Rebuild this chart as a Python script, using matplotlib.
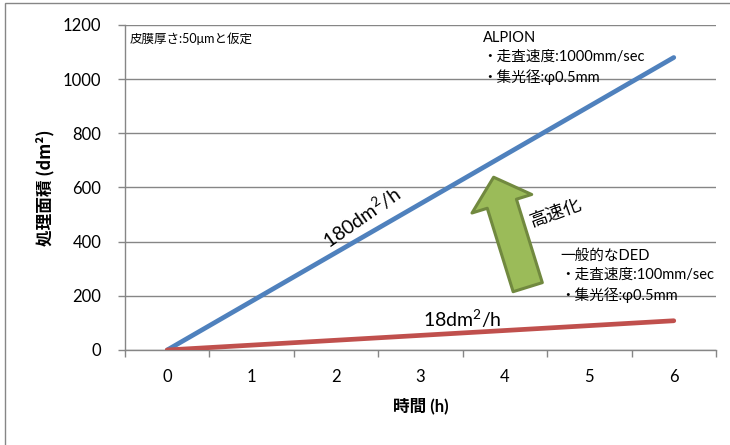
import numpy as np
import matplotlib
matplotlib.use("Agg")
import matplotlib.pyplot as plt
from matplotlib.patches import FancyArrowPatch, Rectangle

plt.rcParams['font.family'] = ['Lato', 'Noto Sans CJK JP', 'DejaVu Sans']
plt.rcParams['mathtext.fontset'] = 'custom'
plt.rcParams['mathtext.rm'] = 'Lato'
plt.rcParams['mathtext.it'] = 'Lato'

# データ
hours = [0, 1, 2, 3, 4, 5, 6]
alpion = [0, 180, 360, 540, 720, 900, 1080]   # 180dm2/h
ded = [0, 18, 36, 54, 72, 90, 108]             # 18dm2/h
y_ticks = [0, 200, 400, 600, 800, 1000, 1200]

note = "皮膜厚さ:50μmと仮定"
alpion_text = "ALPION\n・走査速度:1000mm/sec\n・集光径:φ0.5mm"
ded_text = "一般的なDED\n・走査速度:100mm/sec\n・集光径:φ0.5mm"

grid_c = '#868686'

fig = plt.figure(figsize=(7.3, 4.45), dpi=100)
ax = fig.add_axes([125 / 730, 95 / 445, 591 / 730, 325 / 445])

ax.plot(hours, alpion, color='#4F81BD', lw=3.4, solid_capstyle='round', zorder=3)
ax.plot(hours, ded, color='#C0504D', lw=3.4, solid_capstyle='round', zorder=3)

ax.set_xlim(-0.5, 6.5)
ax.set_ylim(0, 1200)
ax.set_yticks(y_ticks)
ax.set_xticks(np.arange(-0.5, 7, 1))
ax.set_xticklabels([])
ax.set_xticks(hours, minor=True)
ax.set_xticklabels([str(h) for h in hours], minor=True)
ax.tick_params(axis='x', which='major', length=5, width=1, color=grid_c, direction='out')
ax.tick_params(axis='x', which='minor', length=0, pad=14, labelsize=12)
ax.tick_params(axis='y', length=5, width=1, color=grid_c, direction='out', pad=12, labelsize=12)

ax.grid(axis='y', color=grid_c, lw=1.0)
ax.set_axisbelow(True)
for s in ['top', 'right']:
    ax.spines[s].set_visible(False)
for s in ['left', 'bottom']:
    ax.spines[s].set_color(grid_c)
    ax.spines[s].set_linewidth(1.0)

ax.set_ylabel("処理面積 (dm²)", fontsize=12, fontweight='bold', labelpad=6,
              family=['Noto Sans CJK JP', 'DejaVu Sans'])
ax.set_xlabel("時間 (h)", fontsize=12, fontweight='bold', labelpad=9)

ax.text(-0.44, 1150, note, fontsize=9, va='center', ha='left')
ax.text(3.735, 1178, alpion_text, fontsize=10.5, va='top', ha='left', linespacing=1.42)
ax.text(4.66, 375, ded_text, fontsize=10.5, va='top', ha='left', linespacing=1.45)

ax.text(2.3, 490, r"$\mathrm{180dm^2/h}$", fontsize=14, rotation=35, ha='center',
        va='center', rotation_mode='anchor')
ax.text(3.5, 85, r"$\mathrm{18dm^2/h}$", fontsize=14, ha='center', va='baseline')
ax.text(4.61, 506, "高速化", fontsize=13, rotation=20, ha='center', va='center',
        rotation_mode='anchor')

arrow = FancyArrowPatch((4.27, 232), (3.866, 638),
                        arrowstyle="simple,tail_width=22,head_width=45,head_length=20",
                        mutation_scale=1, shrinkA=0, shrinkB=0,
                        facecolor='#9BBB59', edgecolor='#71893F', lw=2.2, zorder=4)
ax.add_patch(arrow)

fig.patches.append(Rectangle((5 / 730, -0.1), 1.2, 1.1 - 3 / 445, transform=fig.transFigure,
                             fill=False, edgecolor=grid_c, lw=1.0))

fig.savefig("out.png", dpi=100)
